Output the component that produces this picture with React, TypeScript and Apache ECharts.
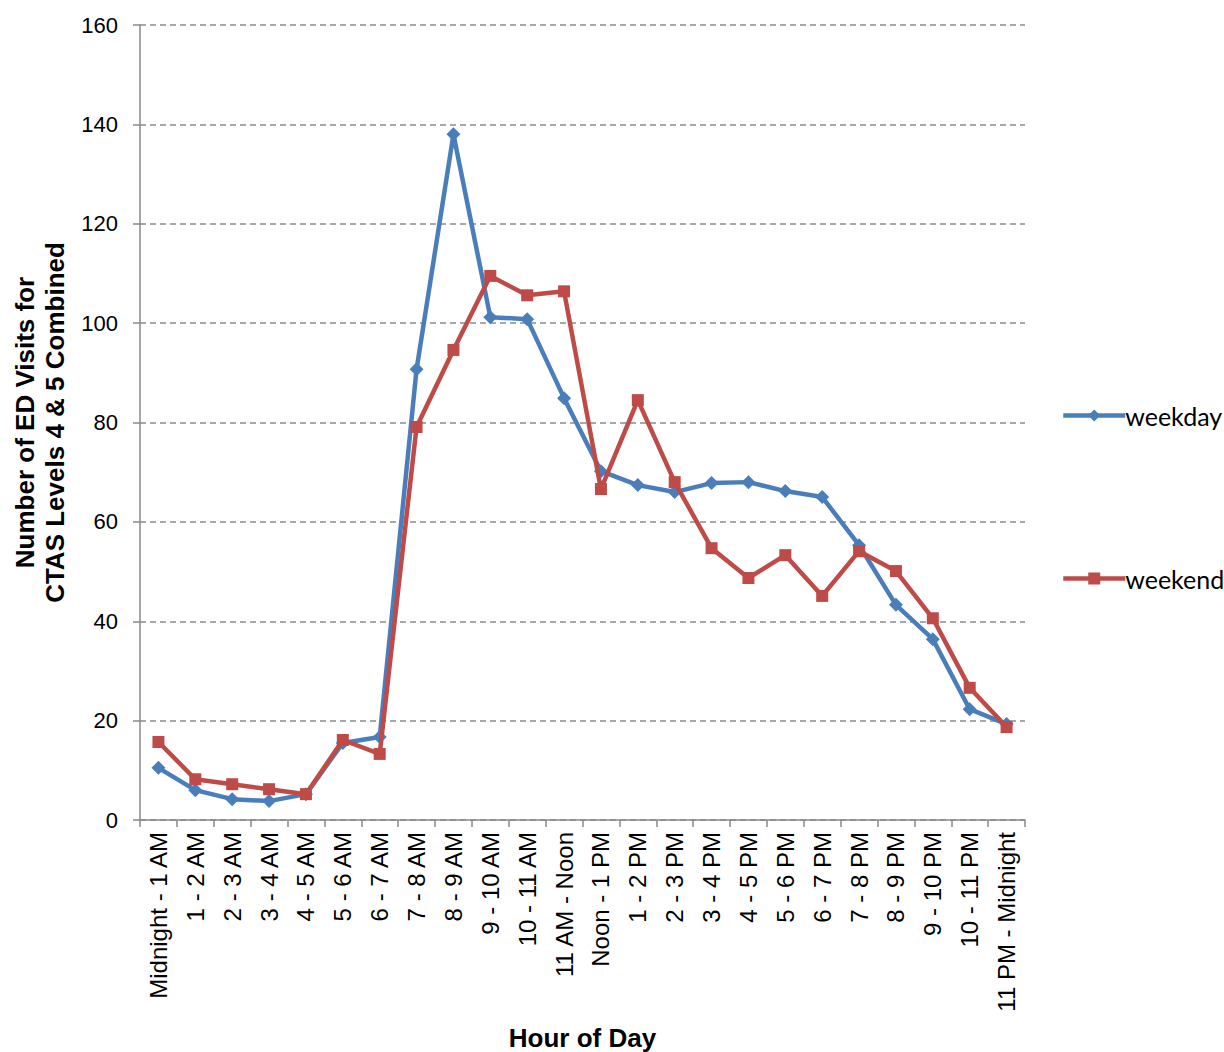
import React, { useEffect, useRef } from "react";
import * as echarts from "echarts";

const categories = [
  "Midnight - 1 AM", "1 - 2 AM", "2 - 3 AM", "3 - 4 AM", "4 - 5 AM", "5 - 6 AM",
  "6 - 7 AM", "7 - 8 AM", "8 - 9 AM", "9 - 10 AM", "10 - 11 AM", "11 AM - Noon",
  "Noon - 1 PM", "1 - 2 PM", "2 - 3 PM", "3 - 4 PM", "4 - 5 PM", "5 - 6 PM",
  "6 - 7 PM", "7 - 8 PM", "8 - 9 PM", "9 - 10 PM", "10 - 11 PM", "11 PM - Midnight",
];

const weekday = [
  10.5, 6.0, 4.2, 3.8, 5.2, 15.5, 16.7, 90.7, 138, 101.2, 100.8, 84.9,
  70.2, 67.4, 66, 67.8, 68, 66.2, 65, 55.3, 43.3, 36.4, 22.3, 19.3,
];

const weekend = [
  15.7, 8.2, 7.2, 6.2, 5.2, 16.1, 13.3, 79.1, 94.6, 109.5, 105.6, 106.4,
  66.6, 84.5, 68, 54.7, 48.7, 53.3, 45.1, 54.1, 50.1, 40.6, 26.6, 18.7,
];

const yTicks = [0, 20, 40, 60, 80, 100, 120, 140, 160];

const BLUE = "#4A7EBB";
const RED = "#BE4B48";

export default function App() {
  const ref = useRef<HTMLDivElement>(null);
  useEffect(() => {
    if (!ref.current) return;
    const chart = echarts.init(ref.current, undefined, { renderer: "svg", width: 1224, height: 1052 });
    const font = "Arial, 'Liberation Sans', sans-serif";
    chart.setOption({
      animation: false,
      backgroundColor: "#ffffff",
      grid: { left: 140, right: 199, top: 25, bottom: 232, containLabel: false, outerBoundsMode: "none" },
      legend: {
        orient: "vertical",
        left: 1056,
        top: 398,
        itemGap: 138,
        itemWidth: 62,
        itemHeight: 15,
        textStyle: { fontFamily: "Lato, 'Open Sans', sans-serif", fontSize: 25, color: "#000", padding: [0, 0, 0, -5] },
        data: [
          { name: "weekday", lineStyle: { width: 4.5, color: BLUE } },
          { name: "weekend", lineStyle: { width: 4.5, color: RED } },
        ],
      },
      xAxis: {
        type: "category",
        data: categories,
        boundaryGap: true,
        name: "Hour of Day",
        nameLocation: "middle",
        nameGap: 205,
        nameTextStyle: { fontFamily: font, fontSize: 26, fontWeight: "bold", color: "#000" },
        axisLine: { lineStyle: { color: "#888", width: 1.5 } },
        axisTick: { show: true, alignWithLabel: false, length: 7, lineStyle: { color: "#888", width: 1.5 } },
        axisLabel: { rotate: 90, interval: 0, fontFamily: font, fontSize: 24, color: "#000", margin: 12 },
        splitLine: { show: false },
      },
      yAxis: {
        type: "value",
        min: 0,
        max: 160,
        interval: 20,
        name: "Number of ED Visits for\nCTAS Levels 4 & 5 Combined",
        nameLocation: "middle",
        nameGap: 67,
        nameTextStyle: { fontFamily: font, fontSize: 26, fontWeight: "bold", color: "#000", lineHeight: 30 },
        axisLine: { show: true, lineStyle: { color: "#888", width: 1.5 } },
        axisTick: { show: true, length: 7, lineStyle: { color: "#888", width: 1.5 } },
        axisLabel: {
          fontFamily: font, fontSize: 22, color: "#000", margin: 22,
          formatter: (v: number) => (yTicks.includes(v) ? String(v) : ""),
        },
        splitLine: { show: true, lineStyle: { color: "#8c8c8c", type: [6, 4], width: 1.5 } },
      },
      series: [
        {
          name: "weekday",
          type: "line",
          data: weekday,
          symbol: "diamond",
          symbolSize: 14,
          color: BLUE,
          lineStyle: { width: 4.5, color: BLUE },
          itemStyle: { color: BLUE },
          z: 2,
        },
        {
          name: "weekend",
          type: "line",
          data: weekend,
          symbol: "rect",
          symbolSize: 12,
          color: RED,
          lineStyle: { width: 4.5, color: RED },
          itemStyle: { color: RED },
          z: 3,
        },
      ],
    });
    return () => chart.dispose();
  }, []);
  return (
    <div
      ref={ref}
      style={{ position: "absolute", left: 0, top: 0, width: 1224, height: 1052, background: "#fff" }}
    />
  );
}
